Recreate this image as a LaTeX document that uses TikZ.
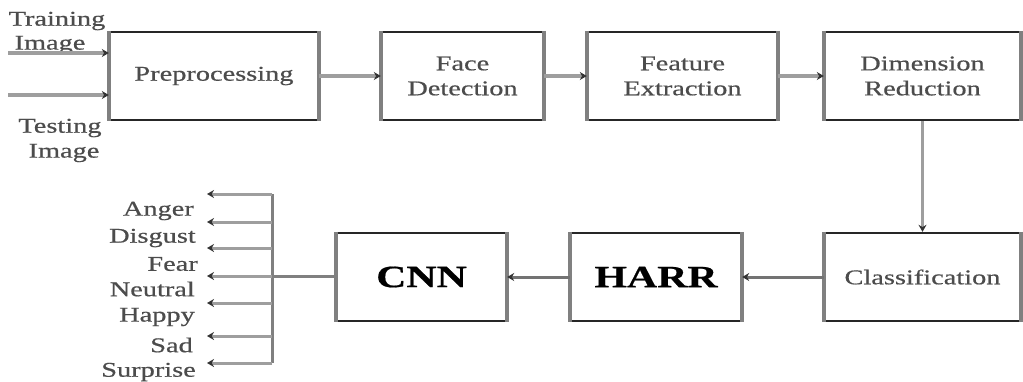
\documentclass[tikz,border=0pt]{standalone}
\usepackage{fontspec}
\setmainfont[FakeStretch=1.35,FakeBold=0.6]{Liberation Serif}
\usetikzlibrary{arrows.meta}
\newcommand{\normtxt}{\rmfamily\fontsize{21}{25}\selectfont}
\newcommand{\bigbold}{\rmfamily\fontsize{31}{36}\selectfont\bfseries}
\tikzset{
  box/.style={draw=black!85, line width=2.4pt, minimum height=88pt, inner sep=0pt,
              align=center, text=black!70, font=\normtxt},
  conn/.style={draw=black!38, line width=3.2pt,
               -{Stealth[length=7pt,width=8pt,color=black!80]}},
  darkconn/.style={conn, draw=black!55, line width=3pt},
  busline/.style={draw=black!50, line width=3pt},
  lbl/.style={text=black!70, inner sep=0pt, font=\normtxt},
}
\begin{document}
\begin{tikzpicture}[x=1pt,y=-1pt]
\useasboundingbox (0,0) rectangle (1023,381);
% top row
\node[box, minimum width=208pt] (pre)  at (214,76)   {Preprocessing};
\node[box, minimum width=161pt] (face) at (462.5,76) {Face\\Detection};
\node[box, minimum width=189pt] (feat) at (682.5,76) {Feature\\Extraction};
\node[box, minimum width=195pt] (dim)  at (922.5,76) {Dimension\\Reduction};
% bottom row
\node[box, minimum width=195pt] (cls)  at (922.5,277) {Classification};
\node[box, minimum width=170pt, font=\bigbold, text=black] (harr) at (656,277) {HARR};
\node[box, minimum width=169pt, font=\bigbold, text=black] (cnn)  at (421.5,277) {CNN};
% grey side borders
\foreach \n in {pre,face,feat,dim,cls,harr,cnn}
  \draw[black!50, line width=4pt] (\n.north west) -- (\n.south west)
                                  (\n.north east) -- (\n.south east);
% input labels
\node[lbl] (tr1) at (57,21)  {Training};
\node[lbl] (tr2) at (50,45)  {Image};
\node[lbl] (te1) at (60,128) {Testing};
\node[lbl] (te2) at (64,153) {Image};
% input arrows
\coordinate (in1) at (8,53);
\coordinate (in2) at (8,95);
\draw[conn] (in1) -- (pre.west |- in1);
\draw[conn] (in2) -- (pre.west |- in2);
% main flow
\draw[conn] (pre) -- (face);
\draw[conn] (face) -- (feat);
\draw[conn] (feat) -- (dim);
\draw[conn] (dim) -- (cls);
\draw[darkconn] (cls) -- (harr);
\draw[darkconn] (harr) -- (cnn);
% output bus
\coordinate (bt) at (272,194);
\coordinate (bb) at (272,363);
\coordinate (bm) at (272,276);
\draw[busline] (cnn.west |- bm) -- (bm);
\draw[busline] (bt) -- (bb);
\foreach \y [count=\i] in {194,222,248,276,303,336,363} {
  \coordinate (b\i) at (272,\y);
  \coordinate (o\i) at (207,\y);
  \draw[conn, line width=3pt] (b\i) -- (o\i);
}
% emotion labels
\node[lbl, anchor=east] (anger)    at (194,211) {Anger};
\node[lbl, anchor=east] (disgust)  at (196,238) {Disgust};
\node[lbl, anchor=east] (fear)     at (198,264) {Fear};
\node[lbl, anchor=east] (neutral)  at (195,289) {Neutral};
\node[lbl, anchor=east] (happy)    at (195,317) {Happy};
\node[lbl, anchor=east] (sad)      at (193,345) {Sad};
\node[lbl, anchor=east] (surprise) at (196,372) {Surprise};
\end{tikzpicture}
\end{document}
